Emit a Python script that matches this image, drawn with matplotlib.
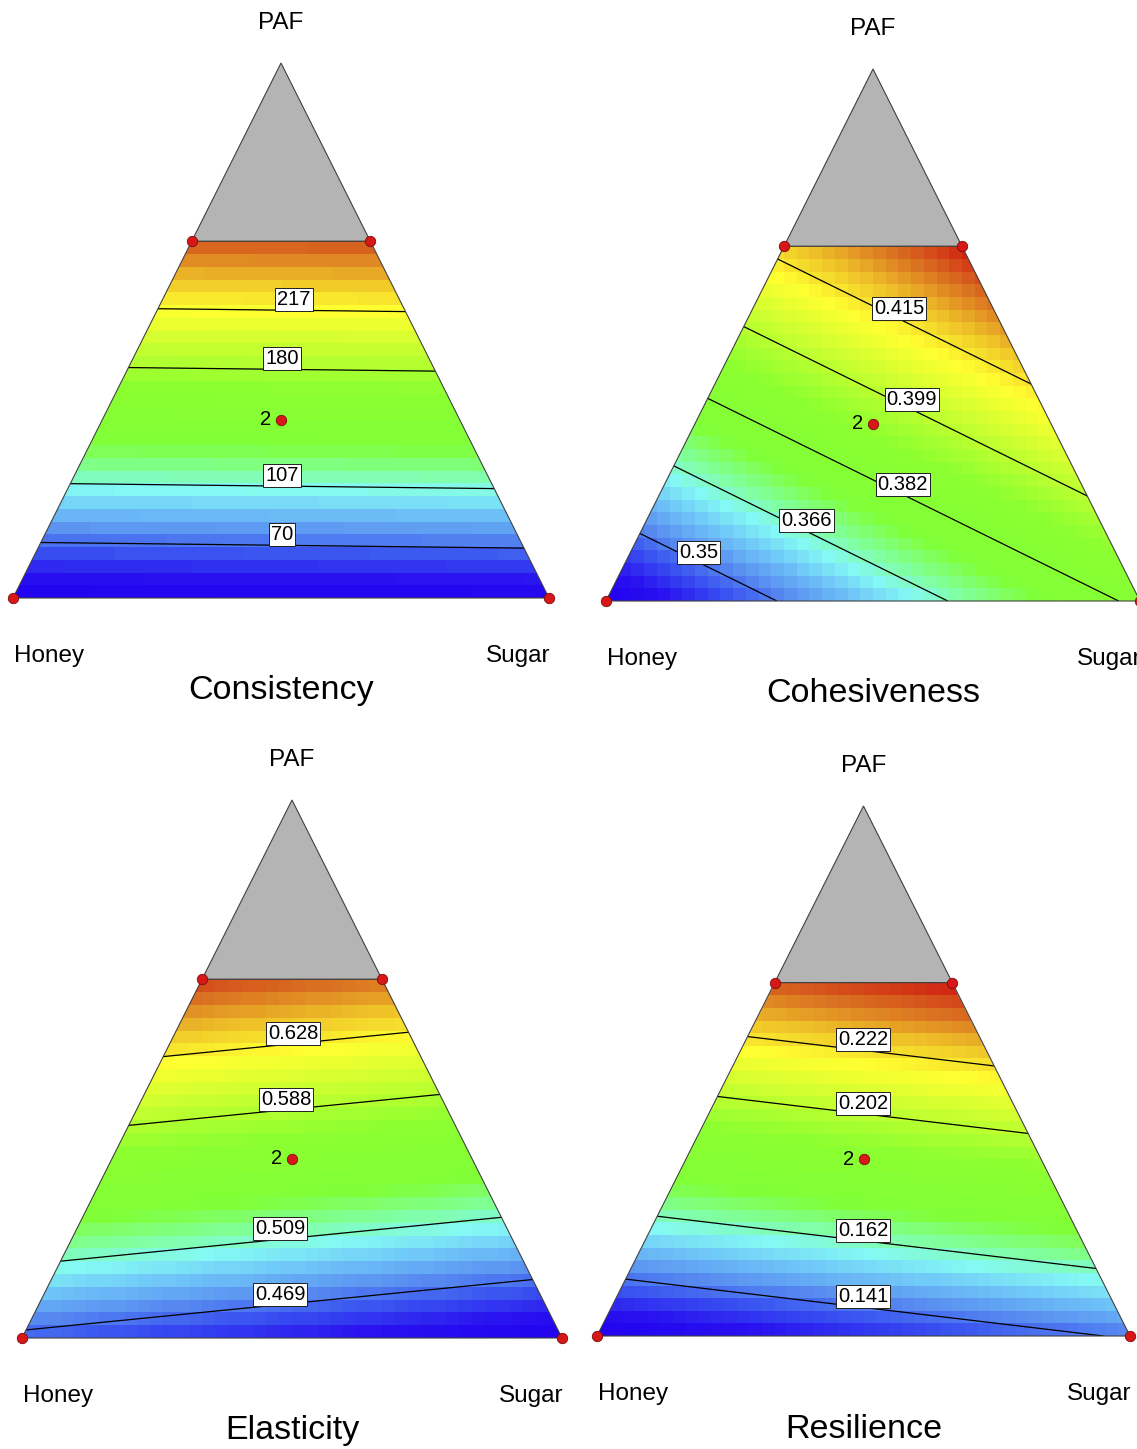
import numpy as np
import matplotlib
matplotlib.use("Agg")
import matplotlib.pyplot as plt
from matplotlib.colors import LinearSegmentedColormap
from matplotlib.patches import Polygon

plt.rcParams['font.family'] = ['Liberation Sans', 'DejaVu Sans']

# Responses, linear Scheffe model in (Honey, Sugar, PAF)
titles = ["Consistency", "Cohesiveness", "Elasticity", "Resilience"]
coef_honey = [35.1, 0.334, 0.4643, 0.122]
coef_sugar = [39.0, 0.384, 0.4314, 0.142]
coef_paf = [371.5, 0.460, 0.7773, 0.299]

# contour levels shown with labels
levels = [
    [70, 107, 180, 217],
    [0.35, 0.366, 0.382, 0.399, 0.415],
    [0.469, 0.509, 0.588, 0.628],
    [0.141, 0.162, 0.202, 0.222],
]
# colour range of each response
color_lo = [35.0, 0.334, 0.431, 0.122]
color_hi = [272.0, 0.435, 0.681, 0.246]

# design points (Honey, Sugar, PAF); PAF limited to 2/3
design_honey = [1.0, 0.0, 1 / 3, 0.0, 1 / 3]
design_sugar = [0.0, 1.0, 0.0, 1 / 3, 1 / 3]
design_paf = [0.0, 0.0, 2 / 3, 2 / 3, 1 / 3]
center_reps = 2

# layout: pixel position of each triangle (left corner x, base y, width, height)
FW, FH = 1137, 1449
panels = [(13, 598, 536, 535), (606, 601, 534, 532),
          (22, 1338, 540, 538), (597, 1336, 533, 530)]
label_x = [
    [0.502, 0.502, 0.502, 0.524],
    [0.174, 0.375, 0.556, 0.573, 0.549],
    [0.478, 0.478, 0.489, 0.502],
    [0.499, 0.499, 0.499, 0.499],
]

cmap = LinearSegmentedColormap.from_list("dx", [
    (0.00, "#2000F0"), (0.06, "#2810F0"), (0.12, "#3850F0"),
    (0.18, "#5A90F0"), (0.24, "#70C8F8"), (0.29, "#84F8F4"),
    (0.34, "#80FFA0"), (0.41, "#80FF38"), (0.56, "#8CFF30"),
    (0.67, "#C8FF30"), (0.77, "#FFFF30"), (0.85, "#EEC028"),
    (0.93, "#D86A20"), (1.00, "#D01C10")])


def to_xy(h, s, p):
    return s + 0.5 * p, p


def model(i, h, s, p):
    return coef_honey[i] * h + coef_sugar[i] * s + coef_paf[i] * p


fig = plt.figure(figsize=(FW / 100, FH / 100), dpi=100)
xa, xb, ya, yb = -0.12, 1.12, -0.24, 1.12

for i, (X0, Y0, W, H) in enumerate(panels):
    left = (X0 + xa * W) / FW
    width = (xb - xa) * W / FW
    bottom = 1 - (Y0 - ya * H) / FH
    height = (yb - ya) * H / FH
    ax = fig.add_axes([left, bottom, width, height])
    ax.set_xlim(xa, xb)
    ax.set_ylim(ya, yb)
    ax.set_axis_off()

    dx, dy = to_xy(np.array(design_honey), np.array(design_sugar), np.array(design_paf))
    trap = [(dx[0], dy[0]), (dx[1], dy[1]), (dx[3], dy[3]), (dx[2], dy[2])]
    top = [(dx[2], dy[2]), (dx[3], dy[3]), to_xy(0, 0, 1)]

    ax.add_patch(Polygon(top, closed=True, fc="#B4B4B4", ec="#404040", lw=0.8, zorder=1))
    clip = Polygon(trap, closed=True, fc="none", ec="#404040", lw=0.8, zorder=4)
    ax.add_patch(clip)

    # coarse cell surface
    n = 42
    xe = np.linspace(0, 1, n + 1)
    ye = np.linspace(0, 1, n + 1)
    xc, yc = np.meshgrid((xe[:-1] + xe[1:]) / 2, (ye[:-1] + ye[1:]) / 2)
    p = yc
    s = xc - 0.5 * yc
    h = 1 - s - p
    z = model(i, h, s, p)
    mesh = ax.pcolormesh(xe, ye, z, cmap=cmap, vmin=color_lo[i], vmax=color_hi[i],
                         shading="flat", zorder=2)
    mesh.set_clip_path(clip)

    # contour lines
    xf, yf = np.meshgrid(np.linspace(0, 1, 400), np.linspace(0, 1, 400))
    pf = yf
    sf = xf - 0.5 * yf
    hf = 1 - sf - pf
    zf = model(i, hf, sf, pf)
    cs = ax.contour(xf, yf, zf, levels=levels[i], colors="k", linewidths=0.9, zorder=3)
    cs.set_clip_path(clip)

    a, b, c = coef_honey[i], coef_sugar[i], coef_paf[i]
    for lv, lx in zip(levels[i], label_x[i]):
        ly = (lv - a - (b - a) * lx) / ((c - a) - 0.5 * (b - a))
        ax.text(lx, ly + 10.5 / H, "{:g}".format(lv), ha="center", va="center",
                fontsize=14.5, zorder=6,
                bbox=dict(boxstyle="square,pad=0.1", fc="white", ec="#202020", lw=0.7))

    ax.plot(dx, dy, "o", ms=7.5, mfc="#D81818", mec="#7A0C0C", mew=0.6,
            clip_on=False, zorder=7)
    ax.text(dx[4] - 15 / W, dy[4], str(center_reps), ha="center", va="center",
            fontsize=14.5, zorder=7)

    ax.text(0.5, 1 + 40 / H, "PAF", ha="center", va="center", fontsize=17.5)
    ax.text(36 / W, -58 / H, "Honey", ha="center", va="center", fontsize=17.5)
    ax.text(1 - 31 / W, -58 / H, "Sugar", ha="center", va="center", fontsize=17.5)
    ax.text(0.5, -93 / H, titles[i], ha="center", va="center", fontsize=24.5)

fig.savefig("out.png", dpi=100)
